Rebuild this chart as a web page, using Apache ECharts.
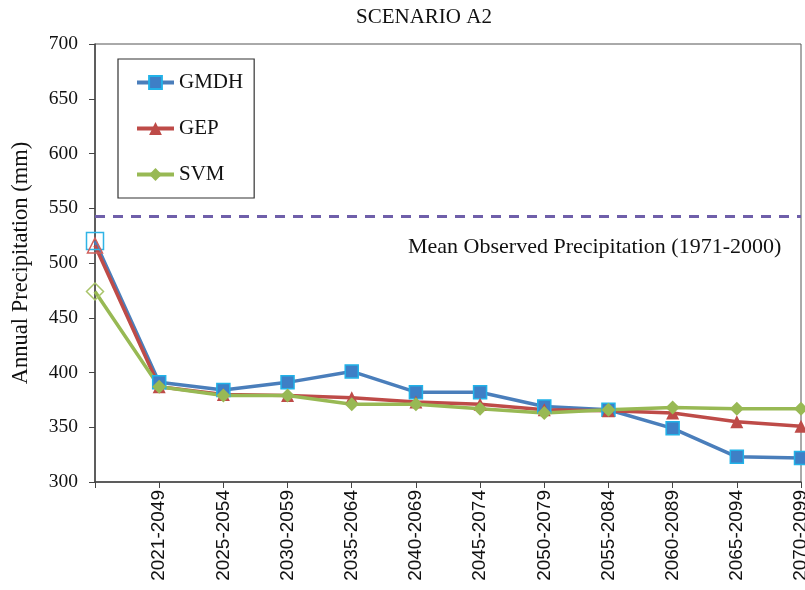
<!DOCTYPE html>
<html>
<head>
<meta charset="utf-8">
<script src="https://cdn.jsdelivr.net/npm/echarts@6/dist/echarts.min.js"></script>
<style>
  html, body { margin: 0; padding: 0; background: #fff; }
  #chart { width: 805px; height: 590px; }
</style>
</head>
<body>
<div id="chart"></div>
<script>
// Projection periods; the first (blank) slot holds the observed-period values.
var periods = ['', '2021-2049', '2025-2054', '2030-2059', '2035-2064', '2040-2069',
  '2045-2074', '2050-2079', '2055-2084', '2060-2089', '2065-2094', '2070-2099'];

var gmdh = [520, 391, 384, 391, 401, 382, 382, 369, 366, 349, 323, 322];
var gep  = [516, 387, 380, 379, 377, 373, 371, 366, 365, 363, 355, 351];
var svm  = [474, 387, 379, 379, 371, 371, 367, 363, 366, 368, 367, 367];

var meanObserved = 543;
var meanLabel = 'Mean Observed Precipitation (1971-2000)';

var yTicks = { min: 300, max: 700, step: 50 };

var serif = '"Liberation Serif", "Times New Roman", serif';

// First point of each series is drawn as a hollow marker
function withHollowFirst(values, border, size) {
  return values.map(function (v, i) {
    if (i !== 0) return v;
    return {
      value: v,
      symbolSize: size,
      itemStyle: { color: 'rgba(255,255,255,0)', borderColor: border, borderWidth: 1.5 }
    };
  });
}

var chart = echarts.init(document.getElementById('chart'), null, { renderer: 'canvas' });

chart.setOption({
  animation: false,
  backgroundColor: '#fff',
  title: {
    text: 'SCENARIO A2',
    left: 356,
    top: 7,
    padding: 0,
    textStyle: { fontFamily: serif, fontSize: 21, fontWeight: 'normal', color: '#111' }
  },
  legend: {
    orient: 'vertical',
    left: 118,
    top: 59,
    padding: [13, 11, 13, 17],
    itemGap: 25,
    itemWidth: 37,
    itemHeight: 16,
    borderColor: '#333',
    borderWidth: 1.2,
    lineStyle: { width: 4 },
    textStyle: { fontFamily: serif, fontSize: 21, color: '#111' },
    data: ['GMDH', 'GEP', 'SVM']
  },
  grid: {
    left: 95, right: 4, top: 44, bottom: 108,
    outerBoundsMode: 'none',
    show: true, borderColor: '#555', borderWidth: 1, backgroundColor: 'transparent'
  },
  xAxis: {
    type: 'category',
    data: periods,
    boundaryGap: false,
    axisLine: { lineStyle: { color: '#444', width: 1.5 } },
    axisTick: { show: true, length: 6, alignWithLabel: true, interval: 0, lineStyle: { color: '#444' } },
    axisLabel: {
      rotate: 90, interval: 0, margin: 8, hideOverlap: false,
      fontFamily: '"Liberation Sans", Arial, sans-serif', fontSize: 19, color: '#111'
    },
    splitLine: { show: false }
  },
  yAxis: {
    type: 'value',
    min: yTicks.min, max: yTicks.max, interval: yTicks.step,
    name: 'Annual Precipitation (mm)',
    nameLocation: 'middle',
    nameGap: 62,
    nameTextStyle: { fontFamily: serif, fontSize: 22.5, color: '#111' },
    axisLine: { show: true, lineStyle: { color: '#444', width: 1.5 } },
    axisTick: { show: true, length: 6, lineStyle: { color: '#444' } },
    axisLabel: { margin: 17, fontFamily: serif, fontSize: 19.5, color: '#111' },
    splitLine: { show: false }
  },
  series: [
    {
      name: 'GMDH',
      type: 'line',
      data: withHollowFirst(gmdh, '#2fb4e6', 17),
      symbol: 'rect',
      symbolSize: 13,
      lineStyle: { color: '#4a7ebb', width: 3.5 },
      itemStyle: { color: '#3e7fc6', borderColor: '#22b2e8', borderWidth: 1.5 },
      markLine: {
        silent: true,
        symbol: 'none',
        label: { show: false },
        lineStyle: { color: '#6f5faa', type: [10, 8], width: 3 },
        data: [{ yAxis: meanObserved }]
      }
    },
    {
      name: 'GEP',
      type: 'line',
      data: withHollowFirst(gep, '#d0605c', 15),
      symbol: 'triangle',
      symbolSize: 13,
      lineStyle: { color: '#be4b48', width: 3.5 },
      itemStyle: { color: '#be4b48' }
    },
    {
      name: 'SVM',
      type: 'line',
      data: withHollowFirst(svm, '#a9c46a', 17),
      symbol: 'diamond',
      symbolSize: 14,
      lineStyle: { color: '#98b954', width: 3.5 },
      itemStyle: { color: '#98b954' }
    }
  ],
  graphic: [{
    type: 'text',
    left: 408,
    top: 236,
    style: { text: meanLabel, font: '22px ' + serif, fill: '#111' }
  }]
});
</script>
</body>
</html>
